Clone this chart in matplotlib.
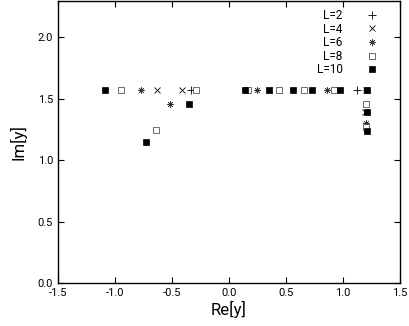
import numpy as np
import matplotlib
matplotlib.use("Agg")
import matplotlib.pyplot as plt

plt.rcParams["font.family"] = ["Roboto", "DejaVu Sans"]

HALF_PI = 1.5708

# (Re, Im) pairs per chain length
re_L2 = [-0.33, 1.12]
im_L2 = [HALF_PI, HALF_PI]

re_L4 = [-0.63, -0.41, 0.35, 1.19, 1.20]
im_L4 = [HALF_PI, HALF_PI, HALF_PI, 1.39, HALF_PI]

re_L6 = [-0.77, -0.52, 0.245, 0.86, 1.20, 1.20]
im_L6 = [HALF_PI, 1.46, HALF_PI, HALF_PI, 1.30, HALF_PI]

re_L8 = [-0.95, -0.64, -0.29, 0.17, 0.44, 0.66, 0.92, 1.205, 1.205]
im_L8 = [HALF_PI, 1.25, HALF_PI, HALF_PI, HALF_PI, HALF_PI, HALF_PI, 1.46, 1.27]

re_L10 = [-1.09, -0.73, -0.35, 0.14, 0.35, 0.56, 0.73, 0.97, 1.21, 1.21, 1.21]
im_L10 = [HALF_PI, 1.15, 1.46, HALF_PI, HALF_PI, HALF_PI, HALF_PI, HALF_PI, HALF_PI, 1.39, 1.24]

series = [
    ("L=2", re_L2, im_L2, dict(marker="+", ms=5.5, mew=0.6, color="black")),
    ("L=4", re_L4, im_L4, dict(marker="x", ms=4.5, mew=0.6, color="black")),
    ("L=6", re_L6, im_L6, dict(marker=(8, 2, 0), ms=4.5, mew=0.5, color="#333333")),
    ("L=8", re_L8, im_L8, dict(marker="s", ms=4.5, mew=0.5, mfc="white", mec="#333333")),
    ("L=10", re_L10, im_L10, dict(marker="s", ms=4.5, mew=0.5, mfc="black", mec="black")),
]

fig = plt.figure(figsize=(4.09, 3.26), dpi=100)
ax = fig.add_axes([0.142, 0.132, 0.836, 0.866])

for label, xs, ys, st in series:
    ax.plot(xs, ys, ls="none", label=label, **st)

ax.set_xlim(-1.5, 1.5)
ax.set_ylim(0, 2.3)
ax.set_xticks(np.arange(-1.5, 1.51, 0.5))
ax.set_yticks(np.arange(0, 2.01, 0.5))
ax.xaxis.set_major_formatter(plt.FormatStrFormatter("%.1f"))
ax.yaxis.set_major_formatter(plt.FormatStrFormatter("%.1f"))
ax.tick_params(direction="in", top=True, right=True, length=4, width=0.8, labelsize=8)
for s in ax.spines.values():
    s.set_linewidth(1.0)

ax.set_xlabel("Re[y]", fontsize=12, labelpad=2)
ax.set_ylabel("Im[y]", fontsize=12, labelpad=8)

ax.legend(loc="upper right", bbox_to_anchor=(0.96, 1.0), frameon=False,
          markerfirst=False, fontsize=8.5, handlelength=1.0, handletextpad=2.0,
          labelspacing=0.05, borderaxespad=0.3)

fig.savefig("out.png", dpi=100)
